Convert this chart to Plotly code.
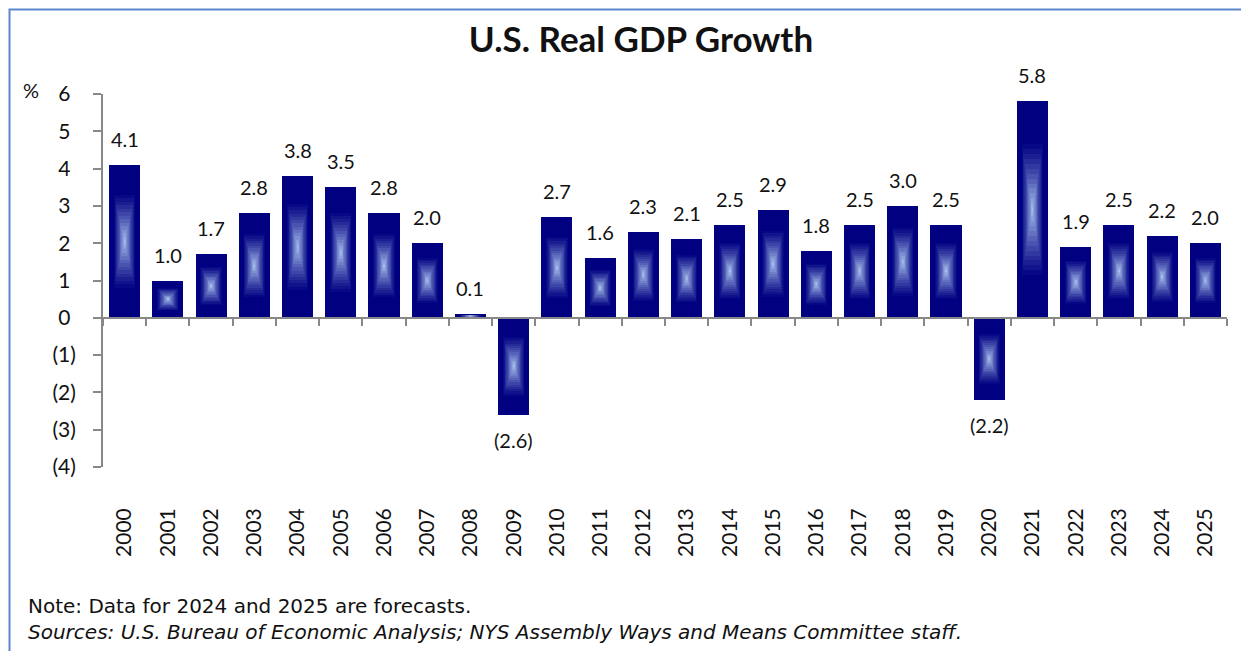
import plotly.graph_objects as go

YEARS = [str(y) for y in range(2000, 2026)]
GROWTH = [4.1, 1.0, 1.7, 2.8, 3.8, 3.5, 2.8, 2.0, 0.1, -2.6, 2.7, 1.6, 2.3,
          2.1, 2.5, 2.9, 1.8, 2.5, 3.0, 2.5, -2.2, 5.8, 1.9, 2.5, 2.2, 2.0]
Y_TICKS = [-4, -3, -2, -1, 0, 1, 2, 3, 4, 5, 6]
Y_TICK_TEXT = ["(4)", "(3)", "(2)", "(1)", "0\u2005", "1\u2005", "2\u2005",
               "3\u2005", "4\u2005", "5\u2005", "6\u2005"]

NAVY = (0, 0, 128)
GLOW = (168, 192, 238)
FONT = "Lato, 'Open Sans', sans-serif"
NOTE_FONT = "'DejaVu Sans', sans-serif"
BAR_W = 0.72
GRAY = "#888888"

# the html body has an 8px margin, so the figure is a bit smaller than the window
OFF = 8
W, H = 1249 - OFF, 651 - OFF
L, R, T, B = 103 - OFF, 22, 94 - OFF, 184
PW, PH = W - L - R, H - T - B


def px_x(px):
    # window pixel -> paper x
    return (px - OFF - L) / PW


def px_y(py):
    # window pixel -> paper y
    return (H - B - (py - OFF)) / PH


fig = go.Figure()

# solid navy bars
fig.add_trace(go.Bar(x=YEARS, y=GROWTH, width=BAR_W, marker=dict(color="rgb(0,0,128)", line_width=0),
                     hoverinfo="x+y", showlegend=False))

# soft rectangular glow in the middle of each bar (Excel path gradient)
N = 14
for k in range(1, N + 1):
    s = 1 - k / N
    t = (k / N) ** 1.2
    col = tuple(round(a + (b - a) * t) for a, b in zip(NAVY, GLOW))
    half = 0.32 * (s + 0.02)
    bases = [v * (0.5 - half) for v in GROWTH]
    heights = [v * 2 * half for v in GROWTH]
    fig.add_trace(go.Bar(x=YEARS, y=heights, base=bases, width=BAR_W * 0.72 * (s + 0.02),
                         marker=dict(color=f"rgb{col}", line_width=0),
                         hoverinfo="skip", showlegend=False))

# invisible trace so the zero-line axis gets its categories
fig.add_trace(go.Scatter(x=YEARS, y=GROWTH, xaxis="x2", mode="markers",
                         marker=dict(opacity=0), hoverinfo="skip", showlegend=False))

# value labels (x given as category index: "2000" would be read as a number)
for i, v in enumerate(GROWTH):
    txt = f"{v:.1f}" if v >= 0 else f"({abs(v):.1f})"
    fig.add_annotation(x=i, y=v, text=txt, showarrow=False,
                       yanchor="bottom" if v >= 0 else "top",
                       yshift=12 if v >= 0 else -11,
                       font=dict(family=FONT, size=20, color="#111111"))

fig.add_annotation(xref="paper", yref="paper", x=px_x(21), y=px_y(90), text="%",
                   showarrow=False, xanchor="left", yanchor="middle",
                   font=dict(family=FONT, size=20, color="#111111"))
fig.add_annotation(xref="paper", yref="paper", x=px_x(26), y=px_y(606),
                   text="Note: Data for 2024 and 2025 are forecasts.",
                   showarrow=False, xanchor="left", yanchor="middle",
                   font=dict(family=NOTE_FONT, size=20, color="#111111"))
fig.add_annotation(xref="paper", yref="paper", x=px_x(26), y=px_y(632),
                   text="<i>Sources: U.S. Bureau of Economic Analysis; NYS Assembly Ways and Means Committee staff.</i>",
                   showarrow=False, xanchor="left", yanchor="middle",
                   font=dict(family=NOTE_FONT, size=20, color="#111111"))

# blue frame around the whole chart (left/top edges just inside the figure)
fig.add_shape(type="rect", xref="paper", yref="paper",
              x0=px_x(OFF + 1.5), x1=px_x(1262), y0=px_y(665), y1=px_y(OFF + 1.5),
              line=dict(color="#5b87cc", width=2), fillcolor="rgba(0,0,0,0)", layer="above")

fig.update_layout(
    width=W, height=H,
    margin=dict(l=L, r=R, t=T, b=B),
    barmode="overlay",
    bargap=0,
    plot_bgcolor="white",
    paper_bgcolor="white",
    showlegend=False,
    title=dict(text="<b>U.S. Real GDP Growth</b>", x=(641 - OFF) / W, xanchor="center",
               y=1 - (40 - OFF) / H, yanchor="middle",
               font=dict(family=FONT, size=35, color="#111111")),
    xaxis=dict(type="category", range=[-0.5, 25.5], showline=False, ticks="",
               showgrid=False, zeroline=False, tickangle=-90, ticklabelstandoff=36,
               tickfont=dict(family=FONT, size=21, color="#111111")),
    xaxis2=dict(type="category", overlaying="x", matches="x", anchor="free", position=0.4,
                range=[-0.5, 25.5], showticklabels=False, ticks="outside", tickson="boundaries",
                ticklen=7, tickwidth=2, tickcolor=GRAY, showline=True, linecolor=GRAY,
                linewidth=2, showgrid=False, zeroline=False),
    yaxis=dict(range=[-4, 6], tickvals=Y_TICKS, ticktext=Y_TICK_TEXT, ticks="outside",
               ticklen=8, tickwidth=2, tickcolor=GRAY, showline=True, linecolor=GRAY,
               linewidth=2, showgrid=False, zeroline=False, ticklabelstandoff=13,
               tickfont=dict(family=FONT, size=21, color="#111111")),
)

fig.write_html("out.html")
